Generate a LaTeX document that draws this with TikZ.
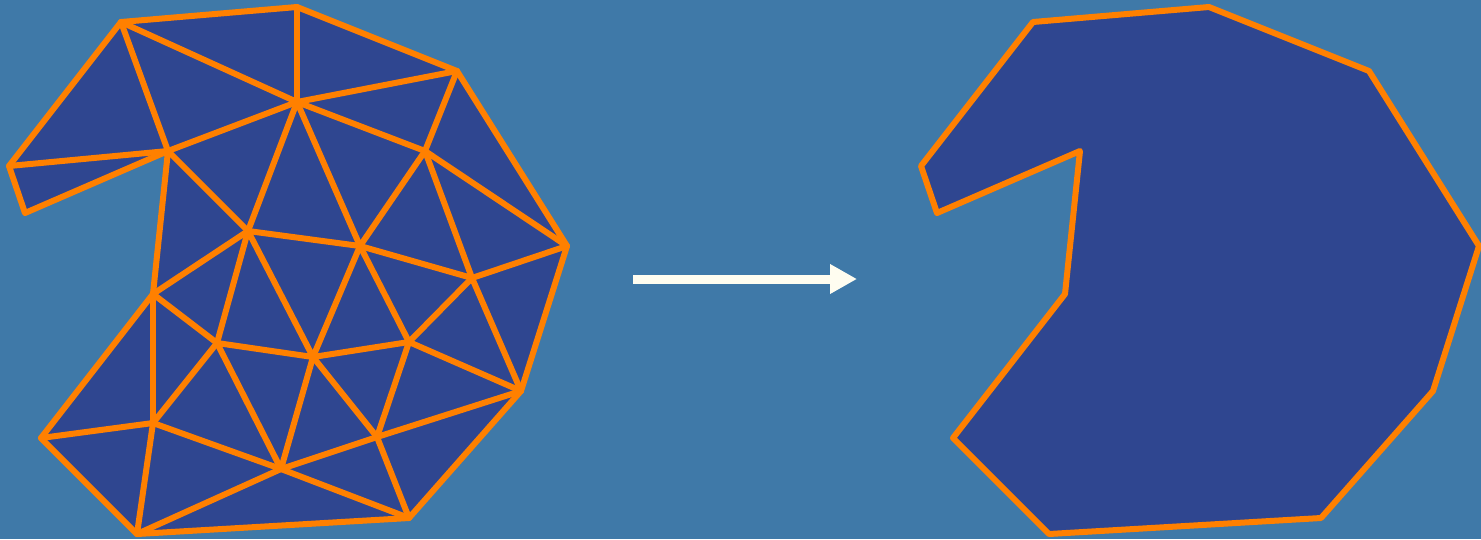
\documentclass[tikz,border=0pt]{standalone}
\usetikzlibrary{arrows.meta}
\definecolor{bgblue}{HTML}{3F79A8}
\definecolor{meshfill}{HTML}{2F4690}
\definecolor{meshline}{HTML}{FF8000}
\definecolor{arrowwhite}{HTML}{FFFDF0}
\tikzset{
  meshedge/.style={draw=meshline, line width=6pt, line cap=round, line join=round},
  outline/.style={meshedge, fill=meshfill},
  bigarrow/.style={draw=arrowwhite, line width=9pt, -{Triangle[width=28pt,length=27pt]}}
}
\begin{document}
\begin{tikzpicture}[x=1pt, y=-1pt]
\useasboundingbox[fill=bgblue] (0,0) rectangle (1481,539);

% boundary vertices
\coordinate (a) at (121,22);
\coordinate (b) at (297,7);
\coordinate (c) at (457,71);
\coordinate (d) at (567,246);
\coordinate (e) at (521,391);
\coordinate (f) at (409,518);
\coordinate (g) at (137,534);
\coordinate (h) at (41,438);
\coordinate (i) at (153,294);
\coordinate (j) at (168,151);
\coordinate (k) at (25,213);
\coordinate (l) at (9,166);
% interior vertices
\coordinate (m) at (297,102);
\coordinate (n) at (425,151);
\coordinate (o) at (248,231);
\coordinate (p) at (360,246);
\coordinate (q) at (472,278);
\coordinate (r) at (217,343);
\coordinate (s) at (313,357);
\coordinate (t) at (409,342);
\coordinate (u) at (153,423);
\coordinate (v) at (377,437);
\coordinate (w) at (281,469);

% left: triangulated polygon
\path[outline] (a) -- (b) -- (c) -- (d) -- (e) -- (f) -- (g) -- (h) -- (i) -- (j) -- (k) -- (l) -- cycle;
\foreach \p/\q in {l/j, a/j, a/m, b/m, m/c, c/n, m/n, j/m, j/o, o/m, m/p, n/p, n/d, n/q,
                   d/q, q/p, q/t, q/e, p/o, p/s, p/t, t/s, t/e, t/v, o/i, o/r, o/s,
                   i/r, r/s, r/u, r/w, i/u, u/h, u/g, u/w, s/w, s/v, v/e, v/w, v/f,
                   w/g, w/f}
  \draw[meshedge] (\p) -- (\q);

% right: merged polygon
\foreach \v in {a,b,c,d,e,f,g,h,i,j,k,l}
  \coordinate (\v2) at ([xshift=912pt]\v);
\path[outline] (a2) -- (b2) -- (c2) -- (d2) -- (e2) -- (f2) -- (g2) -- (h2) -- (i2) -- (j2) -- (k2) -- (l2) -- cycle;

% arrow
\coordinate (from) at (633,279);
\coordinate (to) at (857,279);
\draw[bigarrow] (from) -- (to);
\end{tikzpicture}
\end{document}
